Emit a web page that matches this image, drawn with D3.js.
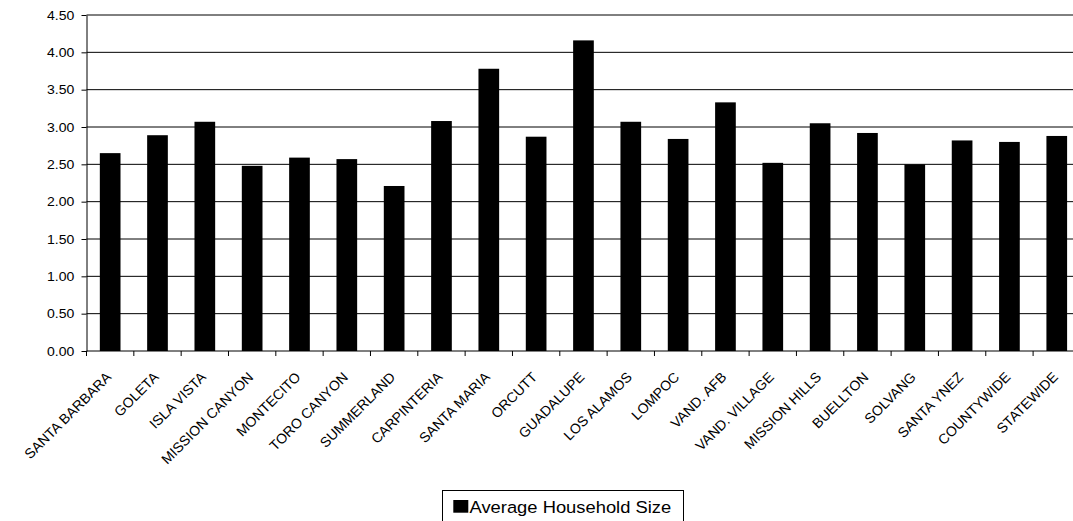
<!DOCTYPE html>
<html><head><meta charset="utf-8">
<script src="https://cdn.jsdelivr.net/npm/d3@7"></script>
<style>
html,body{margin:0;padding:0;background:#fff;overflow:hidden;}
svg{display:block;}
text{font-family:"Liberation Sans",Arial,sans-serif;fill:#000;}
</style></head>
<body>
<svg id="chart" width="1073" height="521"></svg>
<script>
const categories = ["SANTA BARBARA","GOLETA","ISLA VISTA","MISSION CANYON","MONTECITO","TORO CANYON","SUMMERLAND","CARPINTERIA","SANTA MARIA","ORCUTT","GUADALUPE","LOS ALAMOS","LOMPOC","VAND. AFB","VAND. VILLAGE","MISSION HILLS","BUELLTON","SOLVANG","SANTA YNEZ","COUNTYWIDE","STATEWIDE"];
const householdSize = [2.65,2.89,3.07,2.48,2.59,2.57,2.21,3.08,3.78,2.87,4.16,3.07,2.84,3.33,2.52,3.05,2.92,2.50,2.82,2.80,2.88];
const yTicks = [0,0.5,1,1.5,2,2.5,3,3.5,4,4.5];
const seriesName = "Average Household Size";

const svg = d3.select("#chart");
const x0 = 86.5, step = 47.33, yBottom = 351, yTop = 15;
const x = d3.scaleBand().domain(categories).range([x0, x0 + step*categories.length]).paddingInner(0.563).paddingOuter(0.2815);
const y = d3.scaleLinear().domain([0,4.5]).range([yBottom, yTop]);

// gridlines
svg.append("g").selectAll("line").data(yTicks.filter(d=>d>0)).join("line")
  .attr("x1", x0).attr("x2", x0 + step*categories.length)
  .attr("y1", d=>y(d)).attr("y2", d=>y(d))
  .attr("stroke", "#000").attr("stroke-width", 1);

// bars
svg.append("g").selectAll("rect").data(categories).join("rect")
  .attr("x", d=>x(d)).attr("width", x.bandwidth())
  .attr("y", (d,i)=>y(householdSize[i]))
  .attr("height", (d,i)=>yBottom - y(householdSize[i]))
  .attr("fill", "#000");

// y axis
const yAxis = svg.append("g").attr("transform", `translate(${x0},0)`)
  .call(d3.axisLeft(y).tickValues(yTicks).tickFormat(d3.format(".2f")).tickSize(5).tickSizeOuter(0));
yAxis.select(".domain").attr("stroke","#000");
yAxis.selectAll(".tick line").attr("stroke","#000");
yAxis.selectAll(".tick text")
  .attr("x", null).attr("dy", null)
  .attr("dominant-baseline","central")
  .attr("transform", `translate(-12.2,0) scale(1.08,1)`)
  .style("font-size","13px").attr("font-family", null);

// x axis
const xAxis = svg.append("g");
xAxis.append("line").attr("x1", x0).attr("x2", x0 + step*categories.length)
  .attr("y1", yBottom).attr("y2", yBottom).attr("stroke","#000");
const bounds = categories.map(c => x(c) - (x.step()-x.bandwidth())/2);
bounds.push(x0 + step*categories.length);
xAxis.selectAll("line.tk").data(bounds).join("line").attr("class","tk")
  .attr("x1", d=>d).attr("x2", d=>d).attr("y1", yBottom).attr("y2", yBottom+5).attr("stroke","#000");
xAxis.selectAll("text").data(categories).join("text")
  .attr("text-anchor","end")
  .attr("transform", d=>`translate(${x(d)+x.bandwidth()/2+2},${yBottom+27}) rotate(-45)`)
  .style("font-size","14px")
  .text(d=>d);

// legend
const lg = svg.append("g");
lg.append("rect").attr("x",442.5).attr("y",490.5).attr("width",241).attr("height",40)
  .attr("fill","#fff").attr("stroke","#000");
lg.append("rect").attr("x",453.3).attr("y",500).attr("width",15).attr("height",12.7).attr("fill","#000");
lg.append("text").attr("transform","translate(469.5,512.7) scale(1.08,1)")
  .style("font-size","17px").text(seriesName);
</script>
</body></html>
